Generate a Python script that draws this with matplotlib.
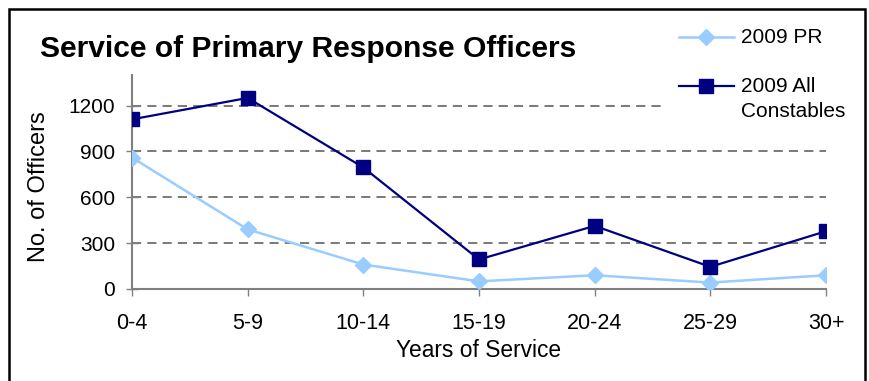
import matplotlib
matplotlib.use("Agg")
import matplotlib.pyplot as plt
from matplotlib.patches import Rectangle
from matplotlib.lines import Line2D
from matplotlib.transforms import ScaledTranslation

plt.rcParams['font.family'] = ['Liberation Sans', 'DejaVu Sans']

# Years-of-service bands and officer counts
categories = ["0-4", "5-9", "10-14", "15-19", "20-24", "25-29", "30+"]
pr_2009 = [860, 390, 160, 50, 90, 42, 90]
all_constables_2009 = [1110, 1250, 795, 193, 413, 145, 378]
y_ticks = [0, 300, 600, 900, 1200]
series_labels = ["2009 PR", "2009 All\nConstables"]

PR_COLOR = "#99CCFF"
ALL_COLOR = "#000080"

W, H = 869, 381
fig = plt.figure(figsize=(W / 100, H / 100), dpi=100)
fig.patch.set_facecolor("white")

def fx(px):
    return px / W

def fy(py):
    return (H - py) / H

ax = fig.add_axes([fx(132), fy(289), fx(826) - fx(132), fy(75) - fy(289)])
x = list(range(len(categories)))

pr_style = dict(color=PR_COLOR, linewidth=1.8, marker="D", markersize=8,
                markerfacecolor=PR_COLOR, markeredgecolor=PR_COLOR)
all_style = dict(color=ALL_COLOR, linewidth=1.6, marker="s", markersize=9.5,
                 markerfacecolor=ALL_COLOR, markeredgecolor=ALL_COLOR)

ax.plot(x, pr_2009, zorder=3, **pr_style)
ax.plot(x, all_constables_2009, zorder=4, **all_style)

ax.set_xlim(0, len(categories) - 1)
ax.set_ylim(0, 1400)
ax.set_xticks(x)
ax.set_xticklabels(categories)
ax.set_yticks(y_ticks)
ax.set_yticklabels([str(v) for v in y_ticks])

for v in y_ticks[1:]:
    ax.axhline(v, color="#555555", linewidth=1.1, linestyle=(0, (6, 4)), zorder=1)

for side in ("top", "right"):
    ax.spines[side].set_visible(False)
for side in ("left", "bottom"):
    ax.spines[side].set_color("#808080")
    ax.spines[side].set_linewidth(1.5)

ax.tick_params(axis="y", direction="inout", length=8, width=1, color="#808080",
               labelsize=15, pad=8)
ax.tick_params(axis="x", direction="out", length=5, width=1, color="#808080",
               labelsize=15.5, pad=12)

ax.set_ylabel("No. of Officers", fontsize=17)
ax.yaxis.set_label_coords(-0.118, 0.477)
ax.set_xlabel("Years of Service", fontsize=16.4, labelpad=4)

fig.text(fx(40), fy(57), "Service of Primary Response Officers",
         fontsize=21.6, fontweight="bold", ha="left", va="baseline")

# Legend panel (white background hides gridlines behind it)
fig.add_artist(Rectangle((fx(662), fy(128)), fx(862) - fx(662), fy(14) - fy(128),
                         transform=fig.transFigure, facecolor="white",
                         edgecolor="none", zorder=5))
text_shift = ScaledTranslation(0, 9 / 100, fig.dpi_scale_trans)
for (row_y, style, label) in [(37, pr_style, series_labels[0]),
                              (86, all_style, series_labels[1])]:
    fig.add_artist(Line2D([fx(679), fx(734)], [fy(row_y), fy(row_y)],
                          transform=fig.transFigure, linestyle="-",
                          color=style["color"], linewidth=style["linewidth"],
                          zorder=6))
    fig.add_artist(Line2D([fx(706)], [fy(row_y)], transform=fig.transFigure,
                          linestyle="none", marker=style["marker"],
                          markersize=style["markersize"],
                          markerfacecolor=style["markerfacecolor"],
                          markeredgecolor=style["markeredgecolor"], zorder=7))
    fig.text(fx(741), fy(row_y), label, fontsize=15, ha="left", va="top",
             linespacing=1.4, zorder=7,
             transform=fig.transFigure + text_shift)

# Outer chart border (open at the bottom edge of the canvas)
fig.add_artist(Rectangle((fx(9), -0.05), fx(865) - fx(9), fy(9) + 0.05,
                         transform=fig.transFigure, fill=False,
                         edgecolor="black", linewidth=1.8, zorder=10))

fig.savefig("out.png", dpi=100)
